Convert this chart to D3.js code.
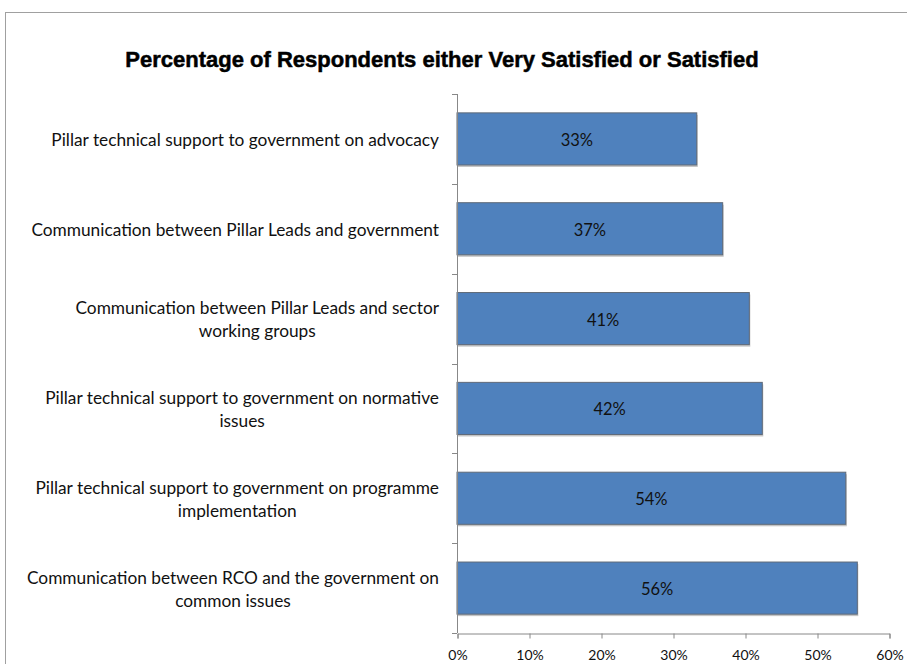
<!DOCTYPE html>
<html>
<head>
<meta charset="utf-8">
<script src="https://cdn.jsdelivr.net/npm/d3@7"></script>
<style>
  html, body { margin: 0; padding: 0; background: #fff; }
  svg { display: block; }
</style>
</head>
<body>
<svg id="chart" width="907" height="664"></svg>
<script>
// Survey results: share of respondents who were very satisfied or satisfied
const categories = [
  ["Pillar technical support to government on advocacy"],
  ["Communication between Pillar Leads and government"],
  ["Communication between Pillar Leads and sector", "working groups"],
  ["Pillar technical support to government on normative", "issues"],
  ["Pillar technical support to government on programme", "implementation"],
  ["Communication between RCO and the government on", "common issues"]
];
const values = [0.333, 0.369, 0.406, 0.424, 0.54, 0.556];
const xTicks = [0, 0.1, 0.2, 0.3, 0.4, 0.5, 0.6];
const chartTitle = "Percentage of Respondents either Very Satisfied or Satisfied";

const svg = d3.select("#chart");
const W = 907, H = 664;
const plotLeft = 457, plotRight = 889, plotTop = 94, plotBottom = 633;
const labelFont = "Lato, Carlito, sans-serif";

// outer chart frame
svg.append("rect")
  .attr("x", 5.5).attr("y", 12.5)
  .attr("width", W).attr("height", H)
  .attr("fill", "none").attr("stroke", "#a0a0a0").attr("stroke-width", 1);

svg.append("text")
  .attr("x", 442).attr("y", 67)
  .attr("text-anchor", "middle")
  .attr("font-family", "Liberation Sans, Arial, sans-serif")
  .attr("font-weight", "bold")
  .attr("font-size", 22)
  .attr("fill", "#000")
  .attr("stroke", "#000").attr("stroke-width", 0.5)
  .text(chartTitle);

const x = d3.scaleLinear().domain([0, 0.6]).range([plotLeft, plotRight]);
const ids = categories.map((d, i) => i);
const y = d3.scaleBand().domain(ids).range([plotTop, plotBottom])
  .paddingInner(0.42).paddingOuter(0.21);

const step = y.step();

// bars with a soft drop shadow
const g = svg.append("g");
g.selectAll("rect.shadow").data(values).join("rect")
  .attr("class", "shadow")
  .attr("x", x(0) + 1)
  .attr("y", (d, i) => y(i) + 2)
  .attr("width", d => x(d) - x(0))
  .attr("height", y.bandwidth())
  .attr("fill", "#c4c4c4");

g.selectAll("rect.bar").data(values).join("rect")
  .attr("class", "bar")
  .attr("x", x(0))
  .attr("y", (d, i) => y(i))
  .attr("width", d => x(d) - x(0))
  .attr("height", y.bandwidth())
  .attr("fill", "#4f81bd")
  .attr("stroke", "#5f6a78").attr("stroke-width", 1);

// value labels inside the bars
g.selectAll("text.val").data(values).join("text")
  .attr("class", "val")
  .attr("x", d => (x(0) + x(d)) / 2)
  .attr("y", (d, i) => y(i) + y.bandwidth() / 2 + 7)
  .attr("text-anchor", "middle")
  .attr("font-family", labelFont)
  .attr("font-size", 16.5)
  .attr("fill", "#111")
  .text(d => d3.format(".0%")(d));

// vertical category axis with ticks at band boundaries
const axisColor = "#888";
svg.append("line")
  .attr("x1", plotLeft + 0.5).attr("x2", plotLeft + 0.5)
  .attr("y1", plotTop).attr("y2", plotBottom)
  .attr("stroke", axisColor);
const bounds = d3.range(categories.length + 1).map(i => plotTop + i * step);
svg.selectAll("line.ytick").data(bounds).join("line")
  .attr("class", "ytick")
  .attr("x1", plotLeft - 5).attr("x2", plotLeft)
  .attr("y1", d => Math.round(d) + 0.5).attr("y2", d => Math.round(d) + 0.5)
  .attr("stroke", axisColor);

// horizontal value axis
const xAxis = d3.axisBottom(x).tickValues(xTicks).tickSize(5)
  .tickFormat(d3.format(".0%"));
const ax = svg.append("g")
  .attr("transform", `translate(0.5,${plotBottom + 0.5})`)
  .call(xAxis);
ax.select(".domain").attr("stroke", axisColor);
ax.selectAll(".tick line").attr("stroke", axisColor);
ax.selectAll(".tick text")
  .attr("font-family", labelFont)
  .attr("font-size", 14)
  .attr("fill", "#111")
  .attr("y", 13)
  .attr("dy", "0.95em");

// category labels, right aligned, multi-line blocks centred on their widest line
const labelRight = 439;
const lineH = 23;
categories.forEach((lines, i) => {
  const cy = y(i) + y.bandwidth() / 2;
  const grp = svg.append("g");
  const texts = lines.map((t, k) => grp.append("text")
    .attr("font-family", labelFont)
    .attr("font-size", 17.3)
    .attr("fill", "#111")
    .attr("text-anchor", "middle")
    .attr("y", cy + 7 + (k - (lines.length - 1) / 2) * lineH)
    .text(t));
  const widths = texts.map(t => t.node().getComputedTextLength());
  const wmax = d3.max(widths);
  texts.forEach(t => t.attr("x", labelRight - wmax / 2));
});
</script>
</body>
</html>
